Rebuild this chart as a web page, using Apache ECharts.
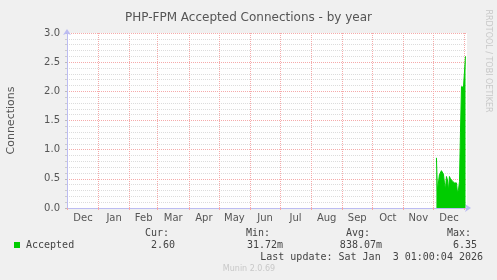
<!DOCTYPE html>
<html>
<head>
<meta charset="utf-8">
<script src="https://cdn.jsdelivr.net/npm/echarts@6/dist/echarts.min.js"></script>
<style>
  html, body { margin: 0; padding: 0; background: #f0f0f0; }
  #chart { width: 497px; height: 280px; }
</style>
</head>
<body>
<div id="chart"></div>
<script>
// ---- data ----
var titleText = 'PHP-FPM Accepted Connections - by year';
var yAxisName = 'Connections';
var rangeStart = '2024-11-30T12:00:00Z';
var rangeEnd = '2026-01-03T12:00:00Z';
var monthStarts = ['2024-12-01','2025-01-01','2025-02-01','2025-03-01','2025-04-01','2025-05-01',
  '2025-06-01','2025-07-01','2025-08-01','2025-09-01','2025-10-01','2025-11-01','2025-12-01','2026-01-01'];
var monthLabels = ['Dec','Jan','Feb','Mar','Apr','May','Jun','Jul','Aug','Sep','Oct','Nov','Dec'];
var yTicks = [0, 0.5, 1.0, 1.5, 2.0, 2.5, 3.0];
var acceptedDates = ['2025-12-04','2025-12-05','2025-12-06','2025-12-07','2025-12-08','2025-12-09',
  '2025-12-10','2025-12-11','2025-12-12','2025-12-13','2025-12-14','2025-12-15','2025-12-16',
  '2025-12-17','2025-12-18','2025-12-19','2025-12-20','2025-12-21','2025-12-22','2025-12-23',
  '2025-12-24','2025-12-25','2025-12-26','2025-12-27','2025-12-28','2025-12-29','2025-12-30',
  '2025-12-31','2026-01-01','2026-01-02'];
var acceptedValues = [0.86,0.29,0.30,0.57,0.60,0.64,0.62,0.58,0.43,0.31,0.54,0.48,0.29,0.54,0.50,
  0.50,0.46,0.43,0.43,0.42,0.43,0.26,0.31,0.45,1.30,2.08,2.08,2.07,2.06,2.60];
var legendName = 'Accepted';
var legendStats = { cur: '2.60', min: '31.72m', avg: '838.07m', max: '6.35' };
var lastUpdate = 'Last update: Sat Jan  3 01:00:04 2026';
var footerText = 'Munin 2.0.69';
var sideText = 'RRDTOOL / TOBI OETIKER';

// ---- build ----
function ts(s) { return Date.parse(s.length === 10 ? s + 'T00:00:00Z' : s); }
var tickVals = monthStarts.map(ts);
var labelVals = [];
for (var i = 0; i < tickVals.length - 1; i++) labelVals.push((tickVals[i] + tickVals[i + 1]) / 2);
var seriesData = acceptedDates.map(function (d, i) { return [ts(d), acceptedValues[i]]; });

var mono = '"DejaVu Sans Mono", monospace';
var sans = '"DejaVu Sans", sans-serif';
var pink = '#f5aaaa';
var axisBlue = '#bcbcf2';
var txt = '#444';

function t(text, x, y, opts) {
  opts = opts || {};
  return {
    type: 'text', x: x, y: y, rotation: opts.rotation || 0, silent: true,
    style: {
      text: text, x: 0, y: 0,
      font: opts.font || ('10px ' + mono),
      fill: opts.fill || txt,
      textAlign: opts.align || 'left', align: opts.align || 'left',
      textVerticalAlign: 'middle', verticalAlign: 'middle'
    }
  };
}

var chart = echarts.init(document.getElementById('chart'), null, { renderer: 'canvas' });
chart.setOption({
  backgroundColor: '#f0f0f0',
  animation: false,
  title: {
    text: titleText, left: 'center', top: 7,
    textStyle: { fontFamily: sans, fontSize: 12, fontWeight: 'normal', color: '#555' }
  },
  grid: { left: 67, right: 30, top: 33, bottom: 72, show: true, backgroundColor: '#ffffff', borderWidth: 0,
          containLabel: false, outerBoundsMode: 'none' },
  xAxis: {
    type: 'value', min: ts(rangeStart), max: ts(rangeEnd),
    axisLine: { show: true, lineStyle: { color: axisBlue, width: 1 }, symbol: ['none', 'arrow'], symbolSize: [6, 6], symbolOffset: [0, 4] },
    axisTick: { show: true, customValues: tickVals, length: 2, inside: false, lineStyle: { color: pink } },
    axisLabel: {
      customValues: labelVals, margin: 5,
      fontFamily: sans, fontSize: 10, color: '#555',
      formatter: function (v) {
        for (var k = 0; k < labelVals.length; k++) if (Math.abs(labelVals[k] - v) < 1e6) return monthLabels[k];
        return '';
      }
    },
    splitLine: { show: true, lineStyle: { color: pink, type: 'dotted', width: 1 } }
  },
  yAxis: {
    type: 'value', min: yTicks[0], max: yTicks[yTicks.length - 1], interval: yTicks[1] - yTicks[0],
    name: yAxisName, nameLocation: 'middle', nameGap: 50, nameRotate: 90,
    nameTextStyle: { fontFamily: sans, fontSize: 11, color: '#555' },
    axisLine: { show: true, lineStyle: { color: axisBlue, width: 1 }, symbol: ['none', 'arrow'], symbolSize: [6, 6], symbolOffset: [0, 4] },
    axisTick: { show: true, length: 2, lineStyle: { color: '#bbbbbb' } },
    minorTick: { show: true, splitNumber: 5, length: 2, lineStyle: { color: '#cccccc' } },
    axisLabel: { margin: 7, fontFamily: sans, fontSize: 10, color: '#555', formatter: function (v) { return v.toFixed(1); } },
    splitLine: { show: true, lineStyle: { color: pink, type: 'dotted', width: 1 } },
    minorSplitLine: { show: true, lineStyle: { color: '#dcdcdc', type: 'dotted', width: 1 } }
  },
  series: [{
    name: legendName, type: 'line', data: seriesData,
    showSymbol: false, symbol: 'none',
    lineStyle: { color: '#00cc00', width: 1 },
    areaStyle: { color: '#00cc00', opacity: 1 },
    z: 3
  }],
  graphic: [
    t(sideText, 488, 61, { rotation: -Math.PI / 2, align: 'center', font: '8px ' + sans, fill: '#c8c8c8' }),
    { type: 'rect', shape: { x: 14, y: 242, width: 6, height: 6 }, style: { fill: '#00cc00' }, silent: true },
    t(legendName, 26, 245),
    t('Cur:', 145, 233), t('Min:', 246, 233), t('Avg:', 346, 233), t('Max:', 447, 233),
    t(legendStats.cur, 175, 245, { align: 'right' }),
    t(legendStats.min, 283, 245, { align: 'right' }),
    t(legendStats.avg, 382, 245, { align: 'right' }),
    t(legendStats.max, 477, 245, { align: 'right' }),
    t(lastUpdate, 483, 257, { align: 'right' }),
    t(footerText, 249, 269, { align: 'center', font: '8px ' + sans, fill: '#c8c8c8' })
  ]
});
</script>
</body>
</html>
